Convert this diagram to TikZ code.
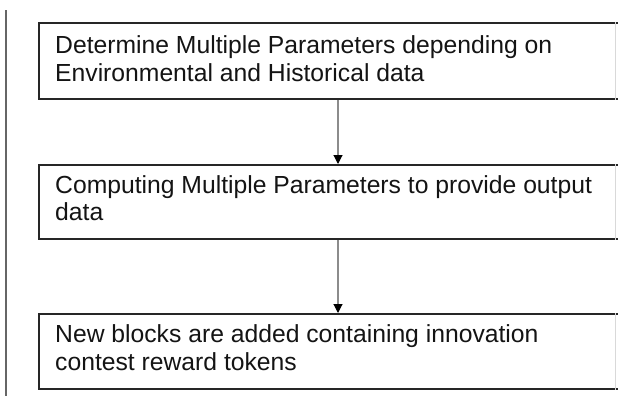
\documentclass[tikz,border=0pt]{standalone}
\usepackage{fontspec}
\setmainfont{Liberation Sans}
\usetikzlibrary{arrows.meta}
\begin{document}
\begin{tikzpicture}[x=1pt,y=-1pt,
  stepbox/.style={draw=black!85, line width=2pt, rectangle, anchor=north west, minimum width=583pt, minimum height=76pt, inner sep=0pt},
  steptext/.style={anchor=base west, align=left, inner sep=0pt, text=black!92, font=\fontsize{24.7}{28.3}\selectfont},
  flow/.style={draw=black!45, line width=1.1pt, -{Triangle[length=9pt,width=9pt,fill=black,color=black]}},
  rule/.style={draw=black!60, line width=1.6pt}]
\useasboundingbox (0,0) rectangle (618,402);
\fill[white] (0,0) rectangle (618,402);
\coordinate (r1) at (6,10);
\coordinate (r2) at (6,396);
\draw[rule] (r1) -- (r2);
\node[stepbox, minimum height=76pt] (b1) at (38,22) {};
\node[stepbox, minimum height=74pt] (b2) at (38,164) {};
\node[stepbox, minimum height=75pt] (b3) at (38,313) {};
\draw[draw=black!15, line width=0.8pt] (b1.north west -| 615,0) -- (b1.south west -| 615,0);
\draw[draw=black!15, line width=0.8pt] (b2.north west -| 615,0) -- (b2.south west -| 615,0);
\draw[draw=black!15, line width=0.8pt] (b3.north west -| 615,0) -- (b3.south west -| 615,0);
\node[steptext] (t1) at (55,53.3) {Determine Multiple Parameters depending on};
\node[steptext] (t1b) at (55,81.7) {Environmental and Historical data};
\node[steptext] (t2) at (55,193.3) {Computing Multiple Parameters to provide output};
\node[steptext] (t2b) at (55,220.8) {data};
\node[steptext] (t3) at (55,342.3) {New blocks are added containing innovation};
\node[steptext] (t3b) at (55,370) {contest reward tokens};
\draw[flow] (b1.south west -| 338,0) -- (b2.north west -| 338,0);
\draw[flow] (b2.south west -| 338,0) -- (b3.north west -| 338,0);
\end{tikzpicture}
\end{document}
